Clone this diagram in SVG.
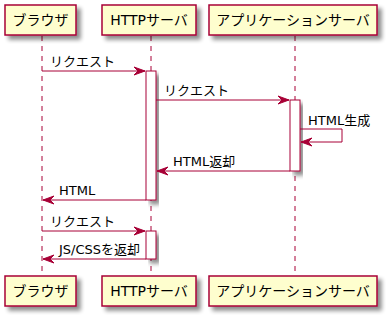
<svg xmlns="http://www.w3.org/2000/svg" width="390" height="319" viewBox="0 0 390 319">
<defs>
<filter id="sh" x="-20%" y="-20%" width="150%" height="150%">
<feGaussianBlur in="SourceAlpha" stdDeviation="2"/>
<feOffset dx="4" dy="4" result="b"/>
<feComponentTransfer><feFuncA type="linear" slope="0.45"/></feComponentTransfer>
<feMerge><feMergeNode/><feMergeNode in="SourceGraphic"/></feMerge>
</filter>
<marker id="ah" viewBox="0 0 12 10" refX="11" refY="5" markerWidth="12" markerHeight="10" markerUnits="userSpaceOnUse" orient="auto">
<polygon points="0,1 11,5 0,9 4,5" fill="#A80036" stroke="#A80036" stroke-width="1"/>
</marker>
<style>
.p{fill:#FEFECE;stroke:#A80036;stroke-width:1.5}
.pt{font-family:"DejaVu Sans","Noto Sans CJK JP",sans-serif;font-size:14px;fill:#000}
.ll{stroke:#A80036;stroke-width:1;stroke-dasharray:5,5;fill:none}
.act{fill:#FFFFFF;stroke:#A80036;stroke-width:1}
.m{stroke:#A80036;stroke-width:1;fill:none;marker-end:url(#ah)}
.mt{font-family:"DejaVu Sans","Noto Sans CJK JP",sans-serif;font-size:13px;fill:#000}
</style>
</defs>
<g id="lifelines">
<line class="ll" x1="42" y1="36" x2="42" y2="276"/>
<line class="ll" x1="151" y1="36" x2="151" y2="276"/>
<line class="ll" x1="295" y1="36" x2="295" y2="276"/>
</g>
<g id="activations">
<rect class="act" x="146" y="71" width="10" height="129" filter="url(#sh)"/>
<rect class="act" x="290" y="100" width="10" height="71" filter="url(#sh)"/>
<rect class="act" x="146" y="231" width="10" height="28" filter="url(#sh)"/>
</g>
<g id="browser-top"><rect class="p" x="5" y="5" width="71" height="30" filter="url(#sh)"/><text class="pt" x="40.5" y="25" text-anchor="middle">ブラウザ</text></g>
<g id="http-top"><rect class="p" x="102" y="5" width="94" height="30" filter="url(#sh)"/><text class="pt" x="149" y="25" text-anchor="middle">HTTPサーバ</text></g>
<g id="app-top"><rect class="p" x="209" y="5" width="168" height="30" filter="url(#sh)"/><text class="pt" x="293" y="25" text-anchor="middle">アプリケーションサーバ</text></g>
<g id="browser-bottom"><rect class="p" x="5" y="276" width="71" height="30" filter="url(#sh)"/><text class="pt" x="40.5" y="296" text-anchor="middle">ブラウザ</text></g>
<g id="http-bottom"><rect class="p" x="102" y="276" width="94" height="30" filter="url(#sh)"/><text class="pt" x="149" y="296" text-anchor="middle">HTTPサーバ</text></g>
<g id="app-bottom"><rect class="p" x="209" y="276" width="168" height="30" filter="url(#sh)"/><text class="pt" x="293" y="296" text-anchor="middle">アプリケーションサーバ</text></g>
<g id="connectors">
<line class="m" x1="42" y1="71" x2="145" y2="71"/>
<text class="mt" x="50" y="66">リクエスト</text>
<line class="m" x1="156" y1="100" x2="289" y2="100"/>
<text class="mt" x="164" y="95">リクエスト</text>
<path class="m" d="M300,129 H342 V142 H301"/>
<text class="mt" x="308" y="125">HTML生成</text>
<line class="m" x1="290" y1="171" x2="157" y2="171"/>
<text class="mt" x="173" y="166">HTML返却</text>
<line class="m" x1="146" y1="200" x2="43" y2="200"/>
<text class="mt" x="59" y="195">HTML</text>
<line class="m" x1="42" y1="231" x2="145" y2="231"/>
<text class="mt" x="50" y="226">リクエスト</text>
<line class="m" x1="146" y1="259" x2="43" y2="259"/>
<text class="mt" x="59" y="254">JS/CSSを返却</text>
</g>
</svg>
